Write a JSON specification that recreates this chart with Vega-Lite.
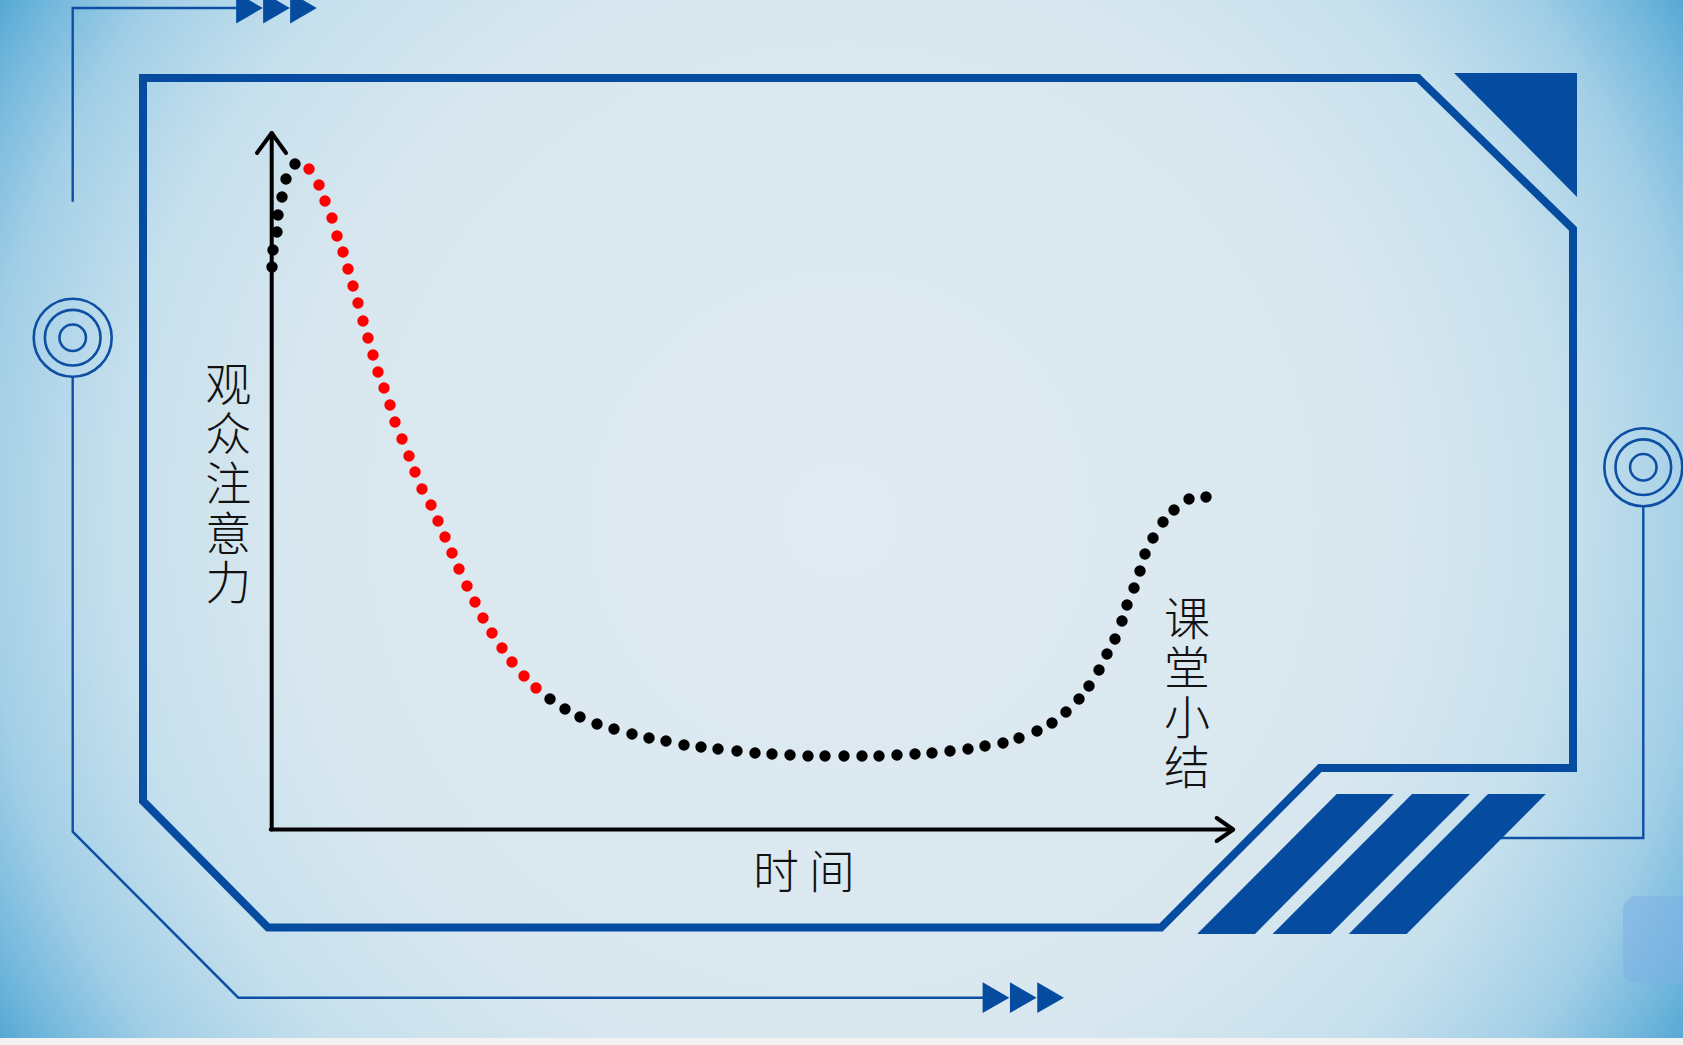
{
  "$schema": "https://vega.github.io/schema/vega-lite/v6.json",
  "width": 1683,
  "height": 1045,
  "padding": 0,
  "autosize": {"type": "none"},
  "background": "#f2f2f2",
  "config": {"view": {"stroke": null}},
  "datasets": {
    "canvas": [{"x": 0, "x2": 1683, "y": 7, "y2": 1045}],
    "strip": [{"x": 0, "x2": 1683, "y": 0, "y2": 7}],
    "badge": [{"x": 1623, "x2": 1710, "y": 62, "y2": 149}],
    "wires": [
      {"seg": "top", "i": 0, "x": 72.7, "y": 843.3},
      {"seg": "top", "i": 1, "x": 72.7, "y": 1037},
      {"seg": "top", "i": 2, "x": 240, "y": 1037},
      {"seg": "bottom", "i": 0, "x": 72.7, "y": 668.3},
      {"seg": "bottom", "i": 1, "x": 72.7, "y": 213.3},
      {"seg": "bottom", "i": 2, "x": 238.3, "y": 47.3},
      {"seg": "bottom", "i": 3, "x": 985, "y": 47.3},
      {"seg": "right", "i": 0, "x": 1643.3, "y": 539},
      {"seg": "right", "i": 1, "x": 1643.3, "y": 207},
      {"seg": "right", "i": 2, "x": 1480, "y": 207}
    ],
    "rings": [
      {"x": 72.7, "y": 707.3, "ring": "outer"},
      {"x": 72.7, "y": 707.3, "ring": "middle"},
      {"x": 72.7, "y": 707.3, "ring": "inner"},
      {"x": 1643.3, "y": 577.8, "ring": "outer"},
      {"x": 1643.3, "y": 577.8, "ring": "middle"},
      {"x": 1643.3, "y": 577.8, "ring": "inner"}
    ],
    "tips": [
      {"x": 249.5, "y": 1037}, {"x": 276.5, "y": 1037}, {"x": 303.5, "y": 1037},
      {"x": 996, "y": 47.3}, {"x": 1023.3, "y": 47.3}, {"x": 1050.6, "y": 47.3}
    ],
    "frame": [
      {"i": 0, "x": 143, "y": 967},
      {"i": 1, "x": 1418, "y": 967},
      {"i": 2, "x": 1573, "y": 816},
      {"i": 3, "x": 1573, "y": 277},
      {"i": 4, "x": 1320, "y": 277},
      {"i": 5, "x": 1161, "y": 117.5},
      {"i": 6, "x": 268, "y": 117.5},
      {"i": 7, "x": 143, "y": 244}
    ],
    "blocks": [
      {"shape": "corner", "y": 972, "x": 1454, "x2": 1577},
      {"shape": "corner", "y": 848, "x": 1577, "x2": 1577},
      {"shape": "stripe1", "y": 251, "x": 1336.7, "x2": 1393.8},
      {"shape": "stripe1", "y": 111, "x": 1197.1, "x2": 1255},
      {"shape": "stripe2", "y": 251, "x": 1412, "x2": 1470},
      {"shape": "stripe2", "y": 111, "x": 1272.6, "x2": 1330.4},
      {"shape": "stripe3", "y": 251, "x": 1488, "x2": 1545.8},
      {"shape": "stripe3", "y": 111, "x": 1348.8, "x2": 1406.6}
    ],
    "axes": [
      {"seg": "y", "i": 0, "x": 271.7, "y": 215.5},
      {"seg": "y", "i": 1, "x": 271.7, "y": 912},
      {"seg": "yhead", "i": 0, "x": 257, "y": 892},
      {"seg": "yhead", "i": 1, "x": 271.7, "y": 912},
      {"seg": "yhead", "i": 2, "x": 286, "y": 892},
      {"seg": "x", "i": 0, "x": 270.7, "y": 215.5},
      {"seg": "x", "i": 1, "x": 1231, "y": 215.5},
      {"seg": "xhead", "i": 0, "x": 1216.7, "y": 227},
      {"seg": "xhead", "i": 1, "x": 1233.3, "y": 215.5},
      {"seg": "xhead", "i": 2, "x": 1216.7, "y": 204}
    ],
    "curve": [
      {"x": 272, "y": 778, "phase": "rise"},
      {"x": 273, "y": 795, "phase": "rise"},
      {"x": 277, "y": 813, "phase": "rise"},
      {"x": 278, "y": 830, "phase": "rise"},
      {"x": 282, "y": 848, "phase": "rise"},
      {"x": 286, "y": 866, "phase": "rise"},
      {"x": 295, "y": 881, "phase": "rise"},
      {"x": 309, "y": 876, "phase": "decline"},
      {"x": 319, "y": 860, "phase": "decline"},
      {"x": 325, "y": 844, "phase": "decline"},
      {"x": 332, "y": 827, "phase": "decline"},
      {"x": 337, "y": 809, "phase": "decline"},
      {"x": 343, "y": 793, "phase": "decline"},
      {"x": 348, "y": 776, "phase": "decline"},
      {"x": 353, "y": 759, "phase": "decline"},
      {"x": 358, "y": 742, "phase": "decline"},
      {"x": 363, "y": 724, "phase": "decline"},
      {"x": 368, "y": 707, "phase": "decline"},
      {"x": 373, "y": 690, "phase": "decline"},
      {"x": 378, "y": 673, "phase": "decline"},
      {"x": 384, "y": 657, "phase": "decline"},
      {"x": 390, "y": 640, "phase": "decline"},
      {"x": 395, "y": 623, "phase": "decline"},
      {"x": 402, "y": 606, "phase": "decline"},
      {"x": 409, "y": 589, "phase": "decline"},
      {"x": 415, "y": 573, "phase": "decline"},
      {"x": 422, "y": 556, "phase": "decline"},
      {"x": 431, "y": 540, "phase": "decline"},
      {"x": 438, "y": 524, "phase": "decline"},
      {"x": 445, "y": 508, "phase": "decline"},
      {"x": 452, "y": 492, "phase": "decline"},
      {"x": 459, "y": 476, "phase": "decline"},
      {"x": 467, "y": 459, "phase": "decline"},
      {"x": 475, "y": 443, "phase": "decline"},
      {"x": 483, "y": 427, "phase": "decline"},
      {"x": 492, "y": 412, "phase": "decline"},
      {"x": 502, "y": 397, "phase": "decline"},
      {"x": 512, "y": 383, "phase": "decline"},
      {"x": 524, "y": 369, "phase": "decline"},
      {"x": 536, "y": 357, "phase": "decline"},
      {"x": 550, "y": 346, "phase": "rest"},
      {"x": 565, "y": 336, "phase": "rest"},
      {"x": 580, "y": 328, "phase": "rest"},
      {"x": 597, "y": 321, "phase": "rest"},
      {"x": 614, "y": 316, "phase": "rest"},
      {"x": 632, "y": 311, "phase": "rest"},
      {"x": 649, "y": 307, "phase": "rest"},
      {"x": 666, "y": 304, "phase": "rest"},
      {"x": 684, "y": 300, "phase": "rest"},
      {"x": 701, "y": 298, "phase": "rest"},
      {"x": 718, "y": 296, "phase": "rest"},
      {"x": 737, "y": 294, "phase": "rest"},
      {"x": 755, "y": 292, "phase": "rest"},
      {"x": 772, "y": 291, "phase": "rest"},
      {"x": 790, "y": 290, "phase": "rest"},
      {"x": 808, "y": 289, "phase": "rest"},
      {"x": 825, "y": 289, "phase": "rest"},
      {"x": 844, "y": 289, "phase": "rest"},
      {"x": 862, "y": 289, "phase": "rest"},
      {"x": 879, "y": 289, "phase": "rest"},
      {"x": 897, "y": 290, "phase": "rest"},
      {"x": 915, "y": 291, "phase": "rest"},
      {"x": 932, "y": 292, "phase": "rest"},
      {"x": 950, "y": 294, "phase": "rest"},
      {"x": 968, "y": 296, "phase": "rest"},
      {"x": 985, "y": 299, "phase": "rest"},
      {"x": 1003, "y": 302, "phase": "rest"},
      {"x": 1019, "y": 307, "phase": "rest"},
      {"x": 1037, "y": 314, "phase": "rest"},
      {"x": 1052, "y": 322, "phase": "rest"},
      {"x": 1066, "y": 333, "phase": "rest"},
      {"x": 1079, "y": 346, "phase": "rest"},
      {"x": 1089, "y": 359, "phase": "rest"},
      {"x": 1099, "y": 375, "phase": "rest"},
      {"x": 1107, "y": 391, "phase": "rest"},
      {"x": 1115, "y": 406, "phase": "rest"},
      {"x": 1122, "y": 424, "phase": "rest"},
      {"x": 1127, "y": 440, "phase": "rest"},
      {"x": 1134, "y": 457, "phase": "rest"},
      {"x": 1140, "y": 474, "phase": "rest"},
      {"x": 1145, "y": 491, "phase": "rest"},
      {"x": 1153, "y": 507, "phase": "rest"},
      {"x": 1163, "y": 523, "phase": "rest"},
      {"x": 1174, "y": 535, "phase": "rest"},
      {"x": 1189, "y": 546, "phase": "rest"},
      {"x": 1206, "y": 548, "phase": "rest"}
    ],
    "labels": [
      {"text": "观\n众\n注\n意\n力", "x": 228.3, "y": 658.3},
      {"text": "课\n堂\n小\n结", "x": 1187, "y": 424.3},
      {"text": "时 间", "x": 804, "y": 171}
    ]
  },
  "layer": [
    {
      "data": {"name": "canvas"},
      "mark": {
        "type": "rect",
        "fill": {
          "gradient": "radial",
          "x1": 0.5, "y1": 0.5, "r1": 0,
          "x2": 0.5, "y2": 0.5, "r2": 0.6,
          "stops": [
            {"offset": 0, "color": "#e1ebf1"},
            {"offset": 0.55, "color": "#d8e7ef"},
            {"offset": 0.72, "color": "#c6e0ed"},
            {"offset": 0.85, "color": "#a3cfe7"},
            {"offset": 0.93, "color": "#76b9dd"},
            {"offset": 1, "color": "#48a2d1"}
          ]
        }
      },
      "encoding": {
        "x": {"field": "x", "type": "quantitative", "scale": {"domain": [0, 1683]}, "axis": null},
        "x2": {"field": "x2"},
        "y": {"field": "y", "type": "quantitative", "scale": {"domain": [0, 1045]}, "axis": null},
        "y2": {"field": "y2"}
      }
    },
    {
      "data": {"name": "strip"},
      "mark": {"type": "rect", "fill": "#f2f2f2"},
      "encoding": {
        "x": {"field": "x", "type": "quantitative", "scale": {"domain": [0, 1683]}, "axis": null},
        "x2": {"field": "x2"},
        "y": {"field": "y", "type": "quantitative", "scale": {"domain": [0, 1045]}, "axis": null},
        "y2": {"field": "y2"}
      }
    },
    {
      "data": {"name": "badge"},
      "mark": {"type": "rect", "fill": "#7eb0e6", "opacity": 0.55, "cornerRadius": 14},
      "encoding": {
        "x": {"field": "x", "type": "quantitative", "scale": {"domain": [0, 1683]}, "axis": null},
        "x2": {"field": "x2"},
        "y": {"field": "y", "type": "quantitative", "scale": {"domain": [0, 1045]}, "axis": null},
        "y2": {"field": "y2"}
      }
    },
    {
      "data": {"name": "wires"},
      "mark": {"type": "line", "stroke": "#0d4fa3", "strokeWidth": 2.4, "strokeJoin": "miter"},
      "encoding": {
        "x": {"field": "x", "type": "quantitative", "scale": {"domain": [0, 1683]}, "axis": null},
        "y": {"field": "y", "type": "quantitative", "scale": {"domain": [0, 1045]}, "axis": null},
        "detail": {"field": "seg"},
        "order": {"field": "i"}
      }
    },
    {
      "data": {"name": "rings"},
      "mark": {"type": "point", "shape": "circle", "filled": false, "stroke": "#0d4fa3", "strokeWidth": 2.6, "opacity": 1},
      "encoding": {
        "x": {"field": "x", "type": "quantitative", "scale": {"domain": [0, 1683]}, "axis": null},
        "y": {"field": "y", "type": "quantitative", "scale": {"domain": [0, 1045]}, "axis": null},
        "size": {"field": "ring", "type": "nominal", "scale": {"type": "ordinal", "domain": ["outer", "middle", "inner"], "range": [6084, 3100, 700]}, "legend": null}
      }
    },
    {
      "data": {"name": "tips"},
      "mark": {"type": "point", "shape": "triangle-right", "filled": true, "color": "#054ca0", "size": 950, "opacity": 1},
      "encoding": {
        "x": {"field": "x", "type": "quantitative", "scale": {"domain": [0, 1683]}, "axis": null},
        "y": {"field": "y", "type": "quantitative", "scale": {"domain": [0, 1045]}, "axis": null}
      }
    },
    {
      "data": {"name": "frame"},
      "mark": {"type": "line", "interpolate": "linear-closed", "stroke": "#054ca0", "strokeWidth": 8, "strokeJoin": "miter"},
      "encoding": {
        "x": {"field": "x", "type": "quantitative", "scale": {"domain": [0, 1683]}, "axis": null},
        "y": {"field": "y", "type": "quantitative", "scale": {"domain": [0, 1045]}, "axis": null},
        "order": {"field": "i"}
      }
    },
    {
      "data": {"name": "blocks"},
      "mark": {"type": "area", "orient": "horizontal", "color": "#054ca0", "opacity": 1},
      "encoding": {
        "y": {"field": "y", "type": "quantitative", "scale": {"domain": [0, 1045]}, "axis": null},
        "x": {"field": "x", "type": "quantitative", "scale": {"domain": [0, 1683]}, "axis": null},
        "x2": {"field": "x2"},
        "detail": {"field": "shape"}
      }
    },
    {
      "data": {"name": "axes"},
      "mark": {"type": "line", "stroke": "#000000", "strokeWidth": 4, "strokeCap": "round", "strokeJoin": "round"},
      "encoding": {
        "x": {"field": "x", "type": "quantitative", "scale": {"domain": [0, 1683]}, "axis": null},
        "y": {"field": "y", "type": "quantitative", "scale": {"domain": [0, 1045]}, "axis": null},
        "detail": {"field": "seg"},
        "order": {"field": "i"}
      }
    },
    {
      "data": {"name": "curve"},
      "mark": {"type": "point", "shape": "circle", "filled": true, "size": 130, "opacity": 1},
      "encoding": {
        "x": {"field": "x", "type": "quantitative", "scale": {"domain": [0, 1683]}, "axis": null},
        "y": {"field": "y", "type": "quantitative", "scale": {"domain": [0, 1045]}, "axis": null},
        "color": {"field": "phase", "type": "nominal", "scale": {"domain": ["rise", "decline", "rest"], "range": ["#000000", "#fe0000", "#000000"]}, "legend": null}
      }
    },
    {
      "data": {"name": "labels"},
      "mark": {"type": "text", "font": "Noto Sans CJK SC", "fontWeight": 300, "fontSize": 46, "lineBreak": "\n", "lineHeight": 49.7, "align": "center", "baseline": "middle", "color": "#111111"},
      "encoding": {
        "x": {"field": "x", "type": "quantitative", "scale": {"domain": [0, 1683]}, "axis": null},
        "y": {"field": "y", "type": "quantitative", "scale": {"domain": [0, 1045]}, "axis": null},
        "text": {"field": "text", "type": "nominal"}
      }
    }
  ]
}
